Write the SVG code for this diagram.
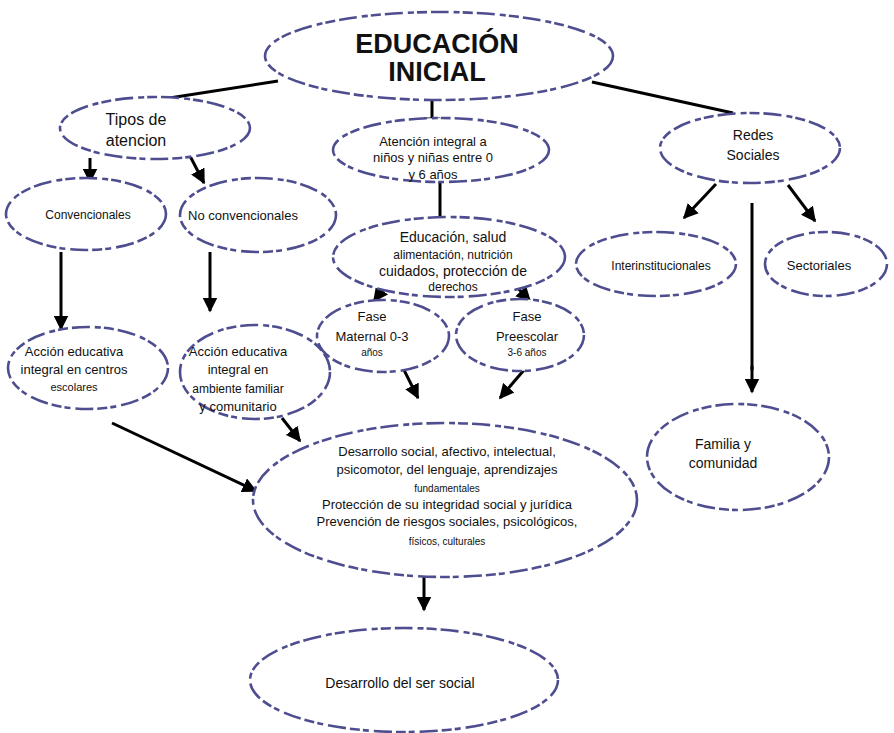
<svg xmlns="http://www.w3.org/2000/svg" width="894" height="733" viewBox="0 0 894 733">
<defs>
<marker id="ah" viewBox="0 0 10 10" refX="9" refY="5" markerWidth="5" markerHeight="5" orient="auto" markerUnits="strokeWidth">
<path d="M0,0 L10,5 L0,10 z" fill="#000"/>
</marker>
<style>
.n{fill:#fff;stroke:#4d4d8f;stroke-width:2.6;stroke-dasharray:18 5 6 3 10 4;}
.t{font-family:"Liberation Sans",Arial,sans-serif;font-size:13px;fill:#111;text-anchor:middle;}
.s{font-size:10px;}
.c{stroke:#000;stroke-width:3;fill:none;}
.a{marker-end:url(#ah);}
</style>
</defs>
<rect width="894" height="733" fill="#fff"/>
<g id="connectors">
<line class="c" x1="278" y1="81" x2="150" y2="101"/>
<line class="c" x1="432" y1="99" x2="432" y2="119"/>
<line class="c" x1="424" y1="119" x2="440" y2="119"/>
<line class="c" x1="592" y1="82" x2="733" y2="113"/>
<line class="c a" x1="90" y1="158" x2="90" y2="182"/>
<line class="c a" x1="190" y1="156" x2="204" y2="183"/>
<line class="c" x1="440" y1="182" x2="440" y2="218"/>
<line class="c a" x1="61" y1="252" x2="61" y2="329"/>
<line class="c a" x1="210" y1="252" x2="210" y2="311"/>
<line class="c a" x1="388" y1="282" x2="374" y2="301"/>
<line class="c a" x1="512" y1="282" x2="530" y2="301"/>
<line class="c a" x1="112" y1="423" x2="256" y2="491"/>
<line class="c a" x1="282" y1="418" x2="300" y2="441"/>
<line class="c a" x1="404" y1="370" x2="418" y2="398"/>
<line class="c a" x1="524" y1="370" x2="500" y2="398"/>
<line class="c a" x1="424" y1="577" x2="424" y2="610"/>
<line class="c a" x1="716" y1="184" x2="684" y2="218"/>
<line class="c a" x1="788" y1="185" x2="815" y2="221"/>
<line class="c" x1="752" y1="203" x2="752" y2="370"/>
<line class="c a" x1="752" y1="366" x2="752" y2="392"/>
</g>
<g id="n-educacion-inicial">
<ellipse class="n" cx="439" cy="56" rx="174" ry="44"/>
<text class="t" x="437" y="53" style="font-size:27px;font-weight:bold">EDUCACIÓN</text>
<text class="t" x="437" y="81" style="font-size:27px;font-weight:bold">INICIAL</text>
</g>
<g id="n-tipos">
<ellipse class="n" cx="155" cy="128" rx="95" ry="31"/>
<text class="t" x="136" y="125" style="font-size:16px">Tipos de</text>
<text class="t" x="136" y="146" style="font-size:16px">atencion</text>
</g>
<g id="n-convencionales">
<ellipse class="n" cx="86" cy="214" rx="80" ry="36"/>
<text class="t" x="88" y="219" style="font-size:12px">Convencionales</text>
</g>
<g id="n-noconvencionales">
<ellipse class="n" cx="258" cy="215" rx="78" ry="37"/>
<text class="t" x="243" y="220">No convencionales</text>
</g>
<g id="n-accion-centros">
<ellipse class="n" cx="88" cy="368" rx="80" ry="41"/>
<text class="t" x="74" y="356">Acción educativa</text>
<text class="t" x="74" y="374">integral en centros</text>
<text class="t" x="74" y="391" style="font-size:11px">escolares</text>
</g>
<g id="n-accion-ambiente">
<ellipse class="n" cx="255" cy="372" rx="75" ry="47"/>
<text class="t" x="238" y="356">Acción educativa</text>
<text class="t" x="238" y="374">integral en</text>
<text class="t" x="238" y="393" style="font-size:12px">ambiente familiar</text>
<text class="t" x="238" y="411">y comunitario</text>
</g>
<g id="n-atencion-integral">
<ellipse class="n" cx="441" cy="150" rx="108" ry="32"/>
<text class="t" x="433" y="146">Atención integral a</text>
<text class="t" x="433" y="162">niños y niñas entre 0</text>
<text class="t" x="433" y="179">y 6 años</text>
</g>
<g id="n-educacion-salud">
<ellipse class="n" cx="449" cy="257" rx="116" ry="40"/>
<text class="t" x="453" y="242" style="font-size:14px">Educación, salud</text>
<text class="t" x="453" y="259" style="font-size:12px">alimentación, nutrición</text>
<text class="t" x="453" y="276" style="font-size:14px">cuidados, protección de</text>
<text class="t" x="453" y="291" style="font-size:12px">derechos</text>
</g>
<g id="n-maternal">
<ellipse class="n" cx="383" cy="336" rx="66" ry="36"/>
<text class="t" x="372" y="321">Fase</text>
<text class="t" x="372" y="341">Maternal 0-3</text>
<text class="t s" x="372" y="356">años</text>
</g>
<g id="n-preescolar">
<ellipse class="n" cx="520" cy="335" rx="64" ry="36"/>
<text class="t" x="527" y="321">Fase</text>
<text class="t" x="527" y="341">Preescolar</text>
<text class="t s" x="527" y="356">3-6 años</text>
</g>
<g id="n-desarrollo">
<ellipse class="n" cx="445" cy="500" rx="192" ry="77"/>
<text class="t" x="447" y="456">Desarrollo social, afectivo, intelectual,</text>
<text class="t" x="447" y="474">psicomotor, del lenguaje, aprendizajes</text>
<text class="t s" x="447" y="492">fundamentales</text>
<text class="t" x="447" y="509">Protección de su integridad social y jurídica</text>
<text class="t" x="447" y="526">Prevención de riesgos sociales, psicológicos,</text>
<text class="t s" x="447" y="545">físicos, culturales</text>
</g>
<g id="n-ser-social">
<ellipse class="n" cx="404" cy="680" rx="154" ry="52"/>
<text class="t" x="400" y="688" style="font-size:14px">Desarrollo del ser social</text>
</g>
<g id="n-redes">
<ellipse class="n" cx="750" cy="148" rx="90" ry="35"/>
<text class="t" x="753" y="140" style="font-size:14px">Redes</text>
<text class="t" x="753" y="160" style="font-size:14px">Sociales</text>
</g>
<g id="n-interinstitucionales">
<ellipse class="n" cx="656" cy="264" rx="80" ry="32"/>
<text class="t" x="661" y="270" style="font-size:12px">Interinstitucionales</text>
</g>
<g id="n-sectoriales">
<ellipse class="n" cx="826" cy="264" rx="61" ry="32"/>
<text class="t" x="819" y="270">Sectoriales</text>
</g>
<g id="n-familia">
<ellipse class="n" cx="738" cy="457" rx="91" ry="53"/>
<text class="t" x="723" y="449" style="font-size:14px">Familia y</text>
<text class="t" x="723" y="468" style="font-size:14px">comunidad</text>
</g>
</svg>
